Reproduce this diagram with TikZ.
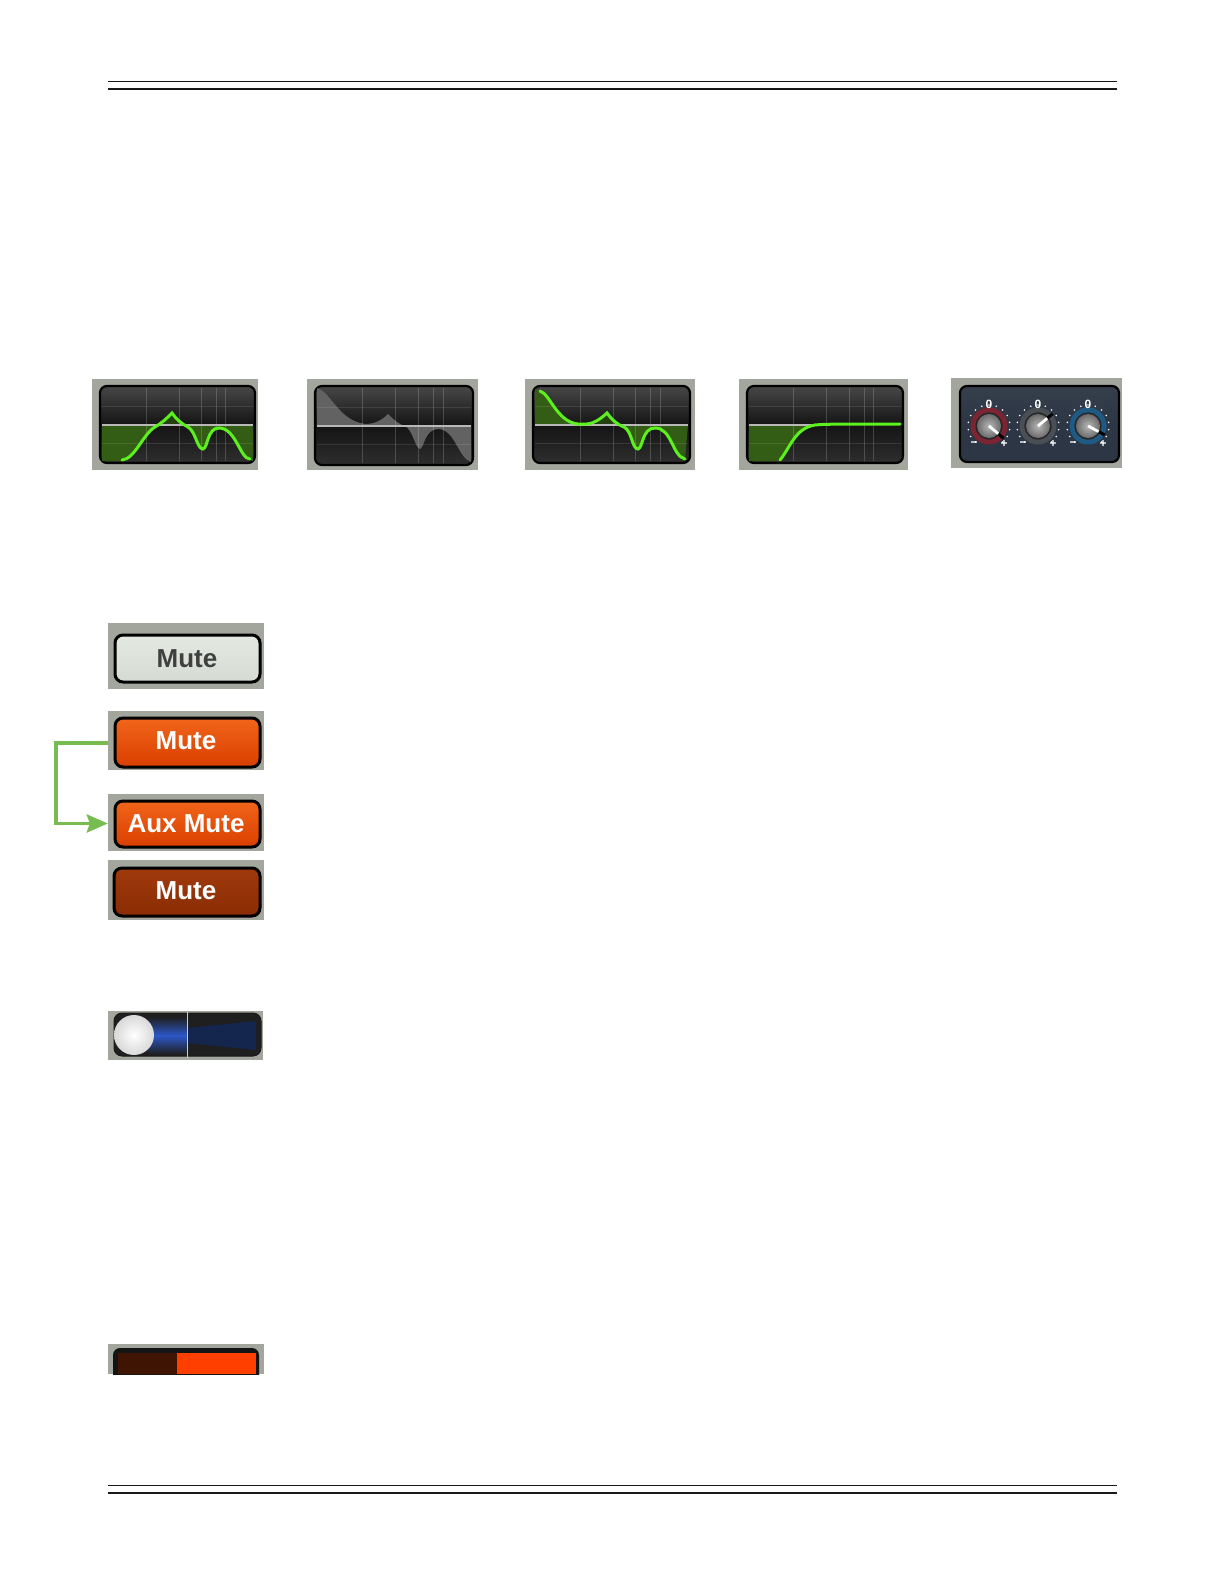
\documentclass[tikz,border=0pt]{standalone}
\usepackage{fontspec}
\setmainfont{Liberation Sans}
\usetikzlibrary{arrows.meta}
\definecolor{panelgray}{HTML}{A2A69C}
\definecolor{trace}{HTML}{5CF01E}
\definecolor{eqfill}{HTML}{335C14}
\definecolor{greyfill}{HTML}{626262}
\definecolor{linkgreen}{HTML}{76BC50}
\definecolor{slate}{HTML}{2C3644}
\definecolor{slatetop}{HTML}{363F4C}
\definecolor{ringred}{HTML}{7C2431}
\definecolor{ringgrey}{HTML}{4A4E55}
\definecolor{ringblue}{HTML}{1F5A85}
\definecolor{orangetop}{HTML}{F2651A}
\definecolor{orangelow}{HTML}{D93F00}
\definecolor{dimtop}{HTML}{A03A0C}
\definecolor{dimlow}{HTML}{8A2C04}
\definecolor{offtop}{HTML}{E4E9E2}
\definecolor{offlow}{HTML}{D5DAD2}
\definecolor{pantrack}{HTML}{15264E}
\definecolor{panglow}{HTML}{2B58C8}
\definecolor{meterdim}{HTML}{3F1403}
\definecolor{meterhot}{HTML}{FF3F00}
\tikzset{
  panel/.style={fill=panelgray,inner sep=0pt,minimum width=#1},
  screen/.style={draw=black,line width=2.2pt,rounded corners=7pt,top color=black!72,bottom color=black!82,middle color=black!92},
  gridline/.style={white,opacity=0.18,line width=0.9pt},
  zero/.style={line width=1.4pt,white!72!black},
  curve/.style={trace,line width=3pt,line cap=round},
  keycap/.style={draw=black,line width=3pt,rounded corners=8pt},
  keytext/.style={font=\bfseries\fontsize{26}{26}\selectfont,inner sep=0pt},
  knobtext/.style={font=\bfseries\fontsize{12}{12}\selectfont,white,inner sep=0pt},
}
% left right top bottom
\newcommand{\eqscreen}[4]{
  \draw[screen] (#1,#3) rectangle (#2,#4);
}
\newcommand{\eqgrid}[4]{
  \foreach \f in {0.30,0.51,0.655,0.75,0.81}
    \draw[gridline] ({#1+\f*(#2-#1)},{#3+2}) -- ({#1+\f*(#2-#1)},{#4-2});
  \foreach \h in {0.27,0.74}
    \draw[gridline,opacity=0.1] ({#1+2},{#3+\h*(#4-#3)}) -- ({#2-2},{#3+\h*(#4-#3)});
}
% centre x, ring colour, pointer angle (y axis points down)
\newcommand{\knob}[3]{
  \foreach \a in {130,150,...,410}
    \fill[white] (#1,426) ++(\a:21) circle (0.9);
  \draw[#2,line width=5pt] (#1,426) circle (16);
  \fill[black!85] (#1,426) circle (13.5);
  \shade[inner color=black!28,outer color=black!58] (#1,426) circle (12);
  \draw[black,line width=3pt] (#1,426) ++(#3:11) -- ++(#3:8);
  \draw[white,line width=2.8pt] (#1,426) -- ++(#3:12);
  \node[knobtext] at (#1,404) {0};
  \node[knobtext] at ({#1-15},444) {−};
  \node[knobtext] at ({#1+15},444) {+};
}
\begin{document}
\begin{tikzpicture}[x=1pt,y=-1pt]
\useasboundingbox (0,0) rectangle (1224,1584);

% rules
\draw[line width=1pt,black!90] (108,81.5) -- (1117,81.5);
\draw[line width=2.6pt,black!90] (108,89) -- (1117,89);
\draw[line width=1pt,black!90] (108,1485.5) -- (1117,1485.5);
\draw[line width=2.6pt,black!90] (108,1493) -- (1117,1493);

% eq panels
\node[panel=166pt,minimum height=91pt] (eqa) at (175,424) {};
\node[panel=171pt,minimum height=91pt] (eqb) at (392.5,424) {};
\node[panel=170pt,minimum height=91pt] (eqc) at (610,424) {};
\node[panel=169pt,minimum height=91pt] (eqd) at (823.5,424) {};
\node[panel=171pt,minimum height=90pt] (fx) at (1036.5,423) {};

\eqscreen{100}{255}{386}{463}
\fill[eqfill] (102,425) -- (102,461) -- (122,461) .. controls (135,459) and (143,434) .. (155,427) -- (158,425) -- cycle;
\fill[eqfill] (185,425) .. controls (196,432) and (197,449) .. (203,449) .. controls (208,448) and (207,428) .. (219,428) .. controls (236,428) and (240,459) .. (250,460) -- (253,461) -- (253,425) -- cycle;
\fill[eqfill!70!black] (158,425) .. controls (163,421) and (167,418) .. (172,413) .. controls (176,419) and (180,422) .. (185,425) -- cycle;
\eqgrid{100}{255}{386}{463}
\draw[zero] (102,425) -- (253,425);
\draw[curve] (122,460) .. controls (135,459) and (143,434) .. (155,427) .. controls (162,423) and (167,418) .. (172,413)
  .. controls (177,420) and (182,424) .. (188,427) .. controls (196,432) and (197,449) .. (203,449) .. controls (208,448) and (207,428) .. (219,428) .. controls (236,428) and (240,459) .. (250,459);

\eqscreen{315}{473}{386}{465}
\fill[greyfill] (317,388) .. controls (332,393) and (338,420) .. (365,424) .. controls (375,424) and (382,420) .. (388,414) .. controls (394,420) and (400,425) .. (405,426) -- (317,426) -- cycle;
\fill[greyfill] (405,426) .. controls (413,430) and (415,448) .. (420,449) .. controls (424,448) and (425,429) .. (438,429) .. controls (455,429) and (458,458) .. (471,462) -- (471,426) -- cycle;
\eqgrid{315}{473}{386}{465}
\draw[zero] (317,426) -- (471,426);

\eqscreen{533}{690}{386}{463}
\fill[eqfill] (535,389) -- (540,391) .. controls (550,394) and (557,422) .. (578,424) -- (578,425) -- (535,425) -- cycle;
\fill[eqfill!70!black] (595,425) .. controls (600,421) and (603,418) .. (607,413) .. controls (610,418) and (614,422) .. (618,425) -- cycle;
\fill[eqfill] (620,425) .. controls (632,431) and (632,449) .. (638,449) .. controls (643,448) and (642,428) .. (655,428) .. controls (672,428) and (672,456) .. (685,459) -- (688,425) -- cycle;
\eqgrid{533}{690}{386}{463}
\draw[zero] (535,425) -- (688,425);
\draw[curve] (540,391) .. controls (550,394) and (557,422) .. (578,424) .. controls (590,425) and (596,423) .. (607,413)
  .. controls (612,420) and (618,425) .. (624,427) .. controls (632,431) and (632,449) .. (638,449) .. controls (643,448) and (642,428) .. (655,428) .. controls (672,428) and (672,456) .. (685,459);

\eqscreen{747}{903}{386}{463}
\fill[eqfill] (749,425) -- (812,425) .. controls (795,428) and (790,448) .. (780,461) -- (749,461) -- cycle;
\eqgrid{747}{903}{386}{463}
\draw[zero] (749,425) -- (812,425);
\draw[curve] (780,460) .. controls (790,448) and (795,428) .. (815,425) .. controls (825,424) and (840,424) .. (900,424);

\draw[screen,top color=slatetop,bottom color=slate,middle color=slate] (960,386) rectangle (1119,462);
\knob{989}{ringred}{40}
\knob{1038}{ringgrey}{-40}
\knob{1088}{ringblue}{28}

% mute keys
\node[panel=156pt,minimum height=66pt] (muteoff) at (186,656) {};
\node[panel=156pt,minimum height=59pt] (muteon) at (186,740.5) {};
\node[panel=156pt,minimum height=57pt] (auxmute) at (186,822.5) {};
\node[panel=156pt,minimum height=60pt] (mutedim) at (186,890) {};
\draw[keycap,top color=offtop,bottom color=offlow] (115,635) rectangle (260,682);
\draw[keycap,top color=orangetop,bottom color=orangelow] (115,718) rectangle (260,767);
\draw[keycap,top color=orangetop,bottom color=orangelow] (115,801) rectangle (260,847);
\draw[keycap,top color=dimtop,bottom color=dimlow] (114,868) rectangle (260,916);
\node[keytext,black!75] (muteofflabel) at (187,659) {Mute};
\node[keytext,white] (muteonlabel) at (186,741) {Mute};
\node[keytext,white] (auxlabel) at (186,824) {Aux Mute};
\node[keytext,white] (dimlabel) at (186,891) {Mute};

% link
\draw[linkgreen,line width=3.5pt,-{Stealth[length=21pt,width=18pt,inset=3pt]}] ([yshift=-2.5pt]muteon.west) -- ++(-52,0) |- ([yshift=-1pt]auxmute.west);

% pan slider
\node[panel=155pt,minimum height=49pt] (pan) at (185.5,1035.5) {};
\draw[black!90,fill=black!88,line width=1pt,rounded corners=8pt] (114,1013) rectangle (261,1056);
\fill[pantrack] (187,1028) -- (256,1021) -- (256,1050) -- (187,1043) -- cycle;
\shade[top color=black!88,bottom color=black!88,middle color=panglow] (148,1017) rectangle (187,1054);
\draw[white!80!black,line width=1pt] (187,1012) -- (187,1058);
\shade[inner color=white,outer color=black!15] (134,1035) circle (20);

% meter
\node[panel=156pt,minimum height=30pt] (meter) at (186,1359) {};
\begin{scope}
\clip (108,1344) rectangle (264,1374);
\fill[black!92,rounded corners=7pt] (113,1348) rectangle (259,1390);
\fill[meterdim] (118,1353) rectangle (177,1374);
\fill[meterhot] (177,1353) rectangle (256,1374);
\end{scope}
\end{tikzpicture}
\end{document}
